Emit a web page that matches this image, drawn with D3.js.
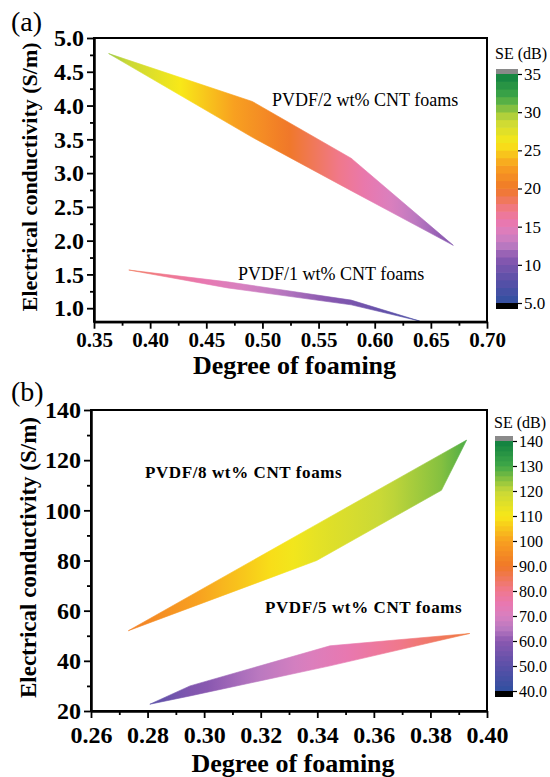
<!DOCTYPE html>
<html>
<head>
<meta charset="utf-8">
<script src="https://cdnjs.cloudflare.com/ajax/libs/d3/7.8.5/d3.min.js"></script>
<style>
body{margin:0;background:#fff}
text{font-family:"Liberation Serif","Times New Roman",serif;fill:#000}
.tick text{font-family:"Liberation Serif","Times New Roman",serif !important}
</style>
</head>
<body>
<svg width="550" height="777"></svg>
<script>
// ---- panel (a) data: degree of foaming vs conductivity, SE at each vertex
var foamA2  = [0.363, 0.491, 0.579, 0.670]
var condUpA2 = [4.77, 4.06, 3.22, 1.93]
var condLoA2 = [4.77, 3.53, 2.74, 1.93]
var seA2    = [30, 22, 16.5, 10.5]

var foamA1  = [0.381, 0.469, 0.579, 0.640]
var condUpA1 = [1.565, 1.39, 1.12, 0.81]
var condLoA1 = [1.565, 1.30, 1.05, 0.81]
var seA1    = [18.5, 14.5, 10, 7]

var xTicksA = [0.35, 0.40, 0.45, 0.50, 0.55, 0.60, 0.65, 0.70]
var yTicksA = [1.0, 1.5, 2.0, 2.5, 3.0, 3.5, 4.0, 4.5, 5.0]
var cbTicksA = [5, 10, 15, 20, 25, 30, 35]
var cbLabelsA = ["5.0", "10", "15", "20", "25", "30", "35"]
var namesA = ["PVDF/2 wt% CNT foams", "PVDF/1 wt% CNT foams"]

// ---- panel (b) data
var foamB8  = [0.2732, 0.3398, 0.3839, 0.3928]
var condUpB8 = [52, 94.4, 122.4, 128]
var condLoB8 = [52, 80, 108, 128]
var seB8    = [92, 114, 125, 129]

var foamB5  = [0.2808, 0.295, 0.3445, 0.3939]
var condUpB5 = [22.7, 30, 46, 50.9]
var condLoB5 = [22.7, 26, 38, 50.9]
var seB5    = [50, 58, 73, 88]

var xTicksB = [0.26, 0.28, 0.30, 0.32, 0.34, 0.36, 0.38, 0.40]
var yTicksB = [20, 40, 60, 80, 100, 120, 140]
var cbTicksB = [40, 50, 60, 70, 80, 90, 100, 110, 120, 130, 140]
var cbLabelsB = ["40.0", "50.0", "60.0", "70.0", "80.0", "90.0", "100", "110", "120", "130", "140"]
var namesB = ["PVDF/8 wt% CNT foams", "PVDF/5 wt% CNT foams"]

// colour map (normalised 0..1), blue -> purple -> pink -> orange -> yellow -> green
var cmapPos = [0, 0.1, 0.2, 0.25, 0.3, 0.35, 0.4, 0.5, 0.6, 0.7, 0.8, 0.9, 1]
var cmapCol = ["#3050a0", "#5a50a8", "#8a58b0", "#b878c0", "#d880c0", "#e878b0", "#f07890",
               "#f07828", "#f8a020", "#f8e818", "#c8d838", "#40a848", "#108040"]
var cmap = d3.scaleLinear().domain(cmapPos).range(cmapCol).interpolate(d3.interpolateRgb)

var svg = d3.select("svg")
var defs = svg.append("defs")
var serif = "Liberation Serif, Times New Roman, serif"

var minor = function(ticks) {
    return d3.pairs(ticks).map(function(p) { return (p[0] + p[1]) / 2 })
}

var drawPanel = function(p) {
    var g = svg.append("g")
    var x = d3.scaleLinear().domain(p.xDom).range([p.left, p.right])
    var y = d3.scaleLinear().domain(p.yDom).range([p.bottom, p.top])

    // ribbons
    p.series.forEach(function(s, k) {
        var id = p.id + "grad" + k
        var x1 = x(s.foam[0]), x2 = x(s.foam[s.foam.length - 1])
        var grad = defs.append("linearGradient").attr("id", id)
            .attr("gradientUnits", "userSpaceOnUse")
            .attr("x1", x1).attr("x2", x2).attr("y1", 0).attr("y2", 0)
        for (var i = 0; i < s.foam.length - 1; i++) {
            for (var j = 0; j < 8; j++) {
                var f = j / 8
                var px = x(s.foam[i]) + (x(s.foam[i + 1]) - x(s.foam[i])) * f
                var v = s.se[i] + (s.se[i + 1] - s.se[i]) * f
                grad.append("stop").attr("offset", (px - x1) / (x2 - x1))
                    .attr("stop-color", cmap((v - p.seDom[0]) / (p.seDom[1] - p.seDom[0])))
            }
        }
        var last = s.se[s.se.length - 1]
        grad.append("stop").attr("offset", 1)
            .attr("stop-color", cmap((last - p.seDom[0]) / (p.seDom[1] - p.seDom[0])))

        var pts = s.foam.map(function(f, i) { return [f, s.up[i]] })
            .concat(s.foam.map(function(f, i) { return [f, s.lo[i]] }).reverse())
        var line = d3.line().x(function(d) { return x(d[0]) }).y(function(d) { return y(d[1]) })
        g.append("path").attr("d", line(pts) + "Z")
            .attr("fill", "url(#" + id + ")")
            .attr("stroke", "url(#" + id + ")").attr("stroke-width", 0.6)
    })

    // frame
    g.append("rect").attr("x", p.left).attr("y", p.top)
        .attr("width", p.right - p.left).attr("height", p.bottom - p.top)
        .attr("fill", "none").attr("stroke", "#000").attr("stroke-width", 2)

    // axes
    g.append("g").attr("transform", "translate(0," + p.bottom + ")")
        .call(d3.axisBottom(x).tickValues(p.xTicks).tickFormat(d3.format(".2f"))
              .tickSize(7).tickSizeOuter(0).tickPadding(p.xPad))
        .attr("font-family", serif).attr("font-size", p.xTickFont).attr("font-weight", "bold")
    g.append("g").attr("transform", "translate(0," + p.bottom + ")")
        .call(d3.axisBottom(x).tickValues(minor(p.xTicks)).tickFormat("").tickSize(4).tickSizeOuter(0))
    g.append("g").attr("transform", "translate(" + p.left + ",0)")
        .call(d3.axisLeft(y).tickValues(p.yTicks).tickFormat(d3.format(p.yFmt))
              .tickSize(7).tickSizeOuter(0).tickPadding(3))
        .attr("font-family", serif).attr("font-size", p.yTickFont).attr("font-weight", "bold")
    var yMinor = minor(p.yTicks)
    var half = (p.yTicks[1] - p.yTicks[0]) / 2
    if (p.yDom[0] < p.yTicks[0] - half) yMinor.unshift(p.yTicks[0] - half)
    g.append("g").attr("transform", "translate(" + p.left + ",0)")
        .call(d3.axisLeft(y).tickValues(yMinor).tickFormat("").tickSize(4).tickSizeOuter(0))
    g.selectAll(".domain").attr("stroke-width", 2)
    g.selectAll(".tick line").attr("stroke-width", 1.8)

    // titles
    g.append("text").attr("x", (p.left + p.right) / 2 + 4).attr("y", p.xTitleY)
        .attr("text-anchor", "middle").style("font-size", p.titleFont + "px").style("font-weight", "bold")
        .text("Degree of foaming")
    g.append("text").attr("transform", "translate(" + p.yTitleX + "," + ((p.top + p.bottom) / 2 - 3) + ") rotate(-90)")
        .attr("text-anchor", "middle").style("font-size", p.yTitleFont + "px").style("font-weight", "bold")
        .text("Electrical conductivity (S/m)")
    g.append("text").attr("x", 11).attr("y", p.labelY).style("font-size", "28px").text(p.label)

    // series names
    p.names.forEach(function(n, i) {
        g.append("text").attr("x", p.namePos[i][0]).attr("y", p.namePos[i][1])
            .style("font-size", p.nameFont + "px").style("font-weight", p.nameWeight)
            .style("letter-spacing", p.nameSpacing + "px").text(n)
    })

    // colour bar
    var cb = d3.scaleLinear().domain(p.seDom).range([p.cbBottom, p.cbTop])
    var nb = p.cbBands
    var step = (p.seDom[1] - p.seDom[0]) / nb
    g.selectAll(".band").data(d3.range(nb)).enter().append("rect")
        .attr("x", p.cbX).attr("width", p.cbW)
        .attr("y", function(i) { return cb(p.seDom[0] + (i + 1) * step) - 0.3 })
        .attr("height", function(i) { return cb(p.seDom[0] + i * step) - cb(p.seDom[0] + (i + 1) * step) + 0.6 })
        .attr("fill", function(i) { return cmap((i + 0.5) / nb) })
    g.append("rect").attr("x", p.cbX).attr("width", p.cbW)
        .attr("y", p.cbTop - 5).attr("height", 5).attr("fill", "#8a8a8a")
    g.append("rect").attr("x", p.cbX).attr("width", p.cbW)
        .attr("y", p.cbBottom).attr("height", 6).attr("fill", "#000")
    var cbAx = g.append("g").attr("transform", "translate(" + (p.cbX + p.cbW) + ",0)")
        .call(d3.axisRight(cb).tickValues(p.cbTicks)
              .tickFormat(function(d, i) { return p.cbLabels[i] }).tickSize(4).tickSizeOuter(0).tickPadding(2))
        .attr("font-family", serif).attr("font-size", p.cbFont)
    cbAx.select(".domain").remove()
    cbAx.selectAll(".tick line").attr("stroke-width", 1.2)
    g.append("text").attr("x", p.cbX - 1).attr("y", p.cbTitleY)
        .style("font-size", "16px").text("SE (dB)")
}

drawPanel({
    id: "a", left: 94, right: 487, top: 38, bottom: 321.7,
    xDom: [0.35, 0.70], yDom: [0.8, 5.0], xTicks: xTicksA, yTicks: yTicksA, yFmt: ".1f",
    xPad: 3, xTickFont: 21, yTickFont: 24, titleFont: 26, xTitleY: 374, yTitleX: 37, yTitleFont: 22,
    label: "(a)", labelY: 31,
    series: [
        { foam: foamA2, up: condUpA2, lo: condLoA2, se: seA2 },
        { foam: foamA1, up: condUpA1, lo: condLoA1, se: seA1 }
    ],
    names: namesA, namePos: [[272, 106], [238, 280]], nameFont: 18, nameWeight: "normal", nameSpacing: 0,
    seDom: [5, 35], cbX: 496, cbW: 22, cbTop: 74, cbBottom: 303, cbBands: 30,
    cbTicks: cbTicksA, cbLabels: cbLabelsA, cbFont: 17, cbTitleY: 59
})

drawPanel({
    id: "b", left: 91, right: 487, top: 410, bottom: 711,
    xDom: [0.26, 0.40], yDom: [20, 140], xTicks: xTicksB, yTicks: yTicksB, yFmt: "d",
    xPad: 8, xTickFont: 24, yTickFont: 24, titleFont: 26, xTitleY: 772, yTitleX: 36, yTitleFont: 23,
    label: "(b)", labelY: 401,
    series: [
        { foam: foamB8, up: condUpB8, lo: condLoB8, se: seB8 },
        { foam: foamB5, up: condUpB5, lo: condLoB5, se: seB5 }
    ],
    names: namesB, namePos: [[145, 478], [265, 613]], nameFont: 17, nameWeight: "bold", nameSpacing: 0.6,
    seDom: [40, 140], cbX: 495, cbW: 18, cbTop: 441, cbBottom: 691, cbBands: 50,
    cbTicks: cbTicksB, cbLabels: cbLabelsB, cbFont: 16, cbTitleY: 428
})
</script>
</body>
</html>
